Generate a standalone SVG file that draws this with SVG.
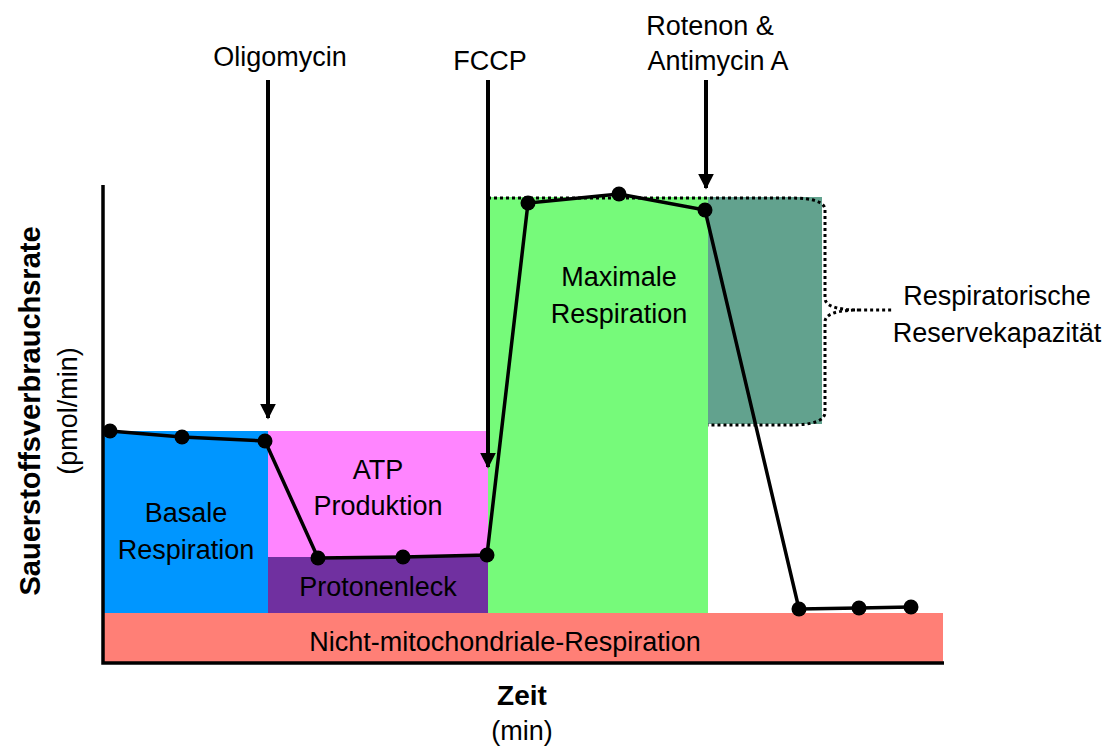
<svg xmlns="http://www.w3.org/2000/svg" width="1113" height="749" viewBox="0 0 1113 749">
<defs>
<style>
text{font-family:"Liberation Sans",Arial,sans-serif;font-size:27px;fill:#000;text-anchor:middle}
.b{font-weight:bold;font-size:28px}
.ln{stroke:#000;stroke-width:3.5;fill:none}
.ar{stroke:#000;stroke-width:4;fill:none}
.dot{fill:#000}
.dt{stroke:#000;stroke-width:3;fill:none;stroke-dasharray:3 3}
</style>
<marker id="ah" viewBox="0 0 10 10" refX="9" refY="5" markerWidth="4" markerHeight="4" markerUnits="strokeWidth" orient="auto">
<path d="M0,0L10,5L0,10z" fill="#000"/>
</marker>
</defs>
<rect width="1113" height="749" fill="#fff"/>
<g id="nicht-mito"><rect x="104" y="613" width="839" height="49" fill="#ff7f76"/><text x="505" y="651">Nicht-mitochondriale-Respiration</text></g>
<g id="basale"><rect x="104" y="431" width="164" height="182" fill="#0096ff"/><text x="186" y="522">Basale</text><text x="186" y="559">Respiration</text></g>
<g id="atp"><rect x="268" y="431" width="220" height="126" fill="#ff85ff"/><text x="378" y="479">ATP</text><text x="378" y="515">Produktion</text></g>
<g id="proton"><rect x="268" y="557" width="220" height="56" fill="#7030a0"/><text x="378" y="596">Protonenleck</text></g>
<g id="maximal"><rect x="488" y="197" width="220" height="416" fill="#76fa7a"/><text x="619" y="286">Maximale</text><text x="619" y="323">Respiration</text></g>
<g id="reserve"><rect x="708" y="197" width="114" height="227" fill="#62a28e"/>
<path class="dt" d="M488,198 L790,198 Q825,198 825,210 L825,298 Q825,310 860,310 L893,310 M860,310 Q825,310 825,322 L825,412 Q825,425 790,425 L708,425"/>
<text x="997" y="305">Respiratorische</text><text x="997" y="342">Reservekapazität</text></g>
<g id="axes"><path class="ln" d="M103,185 L103,663 L944,663"/>
<text class="b" x="522" y="705">Zeit</text><text x="522" y="740">(min)</text>
<text class="b" style="font-size:29px" transform="translate(40,411) rotate(-90)">Sauerstoffsverbrauchsrate</text>
<text transform="translate(77,411) rotate(-90)">(pmol/min)</text></g>
<g id="oligomycin"><text x="280" y="66">Oligomycin</text></g>
<g id="fccp"><text x="490" y="70">FCCP</text></g>
<g id="rotenon"><text x="710" y="35">Rotenon &amp;</text><text x="718" y="70">Antimycin A</text></g>
<g id="connectors">
<line class="ar" x1="268" y1="80" x2="268" y2="418" marker-end="url(#ah)"/>
<line class="ar" x1="488" y1="80" x2="488" y2="467" marker-end="url(#ah)"/>
<line class="ar" x1="706" y1="80" x2="706" y2="188" marker-end="url(#ah)"/>
<polyline class="ln" points="110,431 182,437 265,441 318,558 403,557 487,555 528,203 619,194 705,210 799,609 859,608 911,607"/>
<g class="dot">
<circle cx="110" cy="431" r="7.5"/><circle cx="182" cy="437" r="7.5"/><circle cx="265" cy="441" r="7.5"/>
<circle cx="318" cy="558" r="7.5"/><circle cx="403" cy="557" r="7.5"/><circle cx="487" cy="555" r="7.5"/>
<circle cx="528" cy="203" r="7.5"/><circle cx="619" cy="194" r="7.5"/><circle cx="705" cy="210" r="7.5"/>
<circle cx="799" cy="609" r="7.5"/><circle cx="859" cy="608" r="7.5"/><circle cx="911" cy="607" r="7.5"/>
</g>
</g>
</svg>
